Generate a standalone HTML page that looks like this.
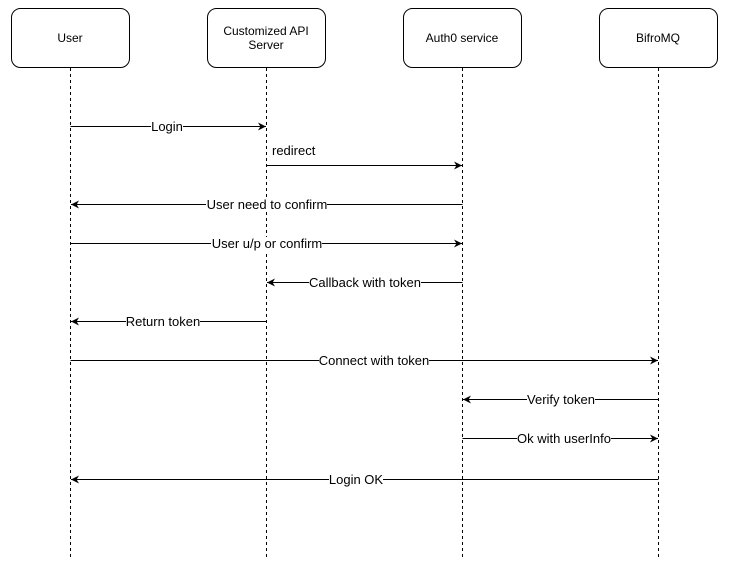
<!DOCTYPE html>
<html><head><meta charset="utf-8"><style>
html,body{margin:0;padding:0;background:#fff;}
svg{display:block;}
text{font-family:"Liberation Sans",Arial,sans-serif;font-size:12px;fill:#000;}
.m{font-size:13px;}
</style></head><body>
<svg width="729" height="569" viewBox="0 0 729 569" xmlns="http://www.w3.org/2000/svg">
<defs>
<marker id="a" viewBox="0 0 10 10" refX="10" refY="5" markerWidth="8" markerHeight="8" markerUnits="userSpaceOnUse" orient="auto">
<path d="M0,0 L10,5 L0,10 L3,5 z" fill="#000"/>
</marker>
</defs>
<g fill="#fff" stroke="#000" stroke-width="1">
<rect x="11.5" y="8.5" width="118" height="59" rx="9"/>
<rect x="207.5" y="8.5" width="118" height="59" rx="9"/>
<rect x="403.5" y="8.5" width="118" height="59" rx="9"/>
<rect x="599.5" y="8.5" width="118" height="59" rx="9"/>
</g>
<g text-anchor="middle">
<text x="70" y="42">User</text>
<text x="266" y="35">Customized API</text>
<text x="266" y="49">Server</text>
<text x="462" y="42">Auth0 service</text>
<text x="658" y="42">BifroMQ</text>
</g>
<g stroke="#000" stroke-dasharray="3,3" stroke-width="1">
<line x1="70.5" y1="68" x2="70.5" y2="557"/>
<line x1="266.5" y1="68" x2="266.5" y2="557"/>
<line x1="462.5" y1="68" x2="462.5" y2="557"/>
<line x1="658.5" y1="68" x2="658.5" y2="557"/>
</g>
<g stroke="#000" stroke-width="1" marker-end="url(#a)">
<line x1="70.5" y1="126.5" x2="266" y2="126.5"/>
<line x1="266.5" y1="165.5" x2="462" y2="165.5"/>
<line x1="462.5" y1="204.5" x2="71" y2="204.5"/>
<line x1="70.5" y1="243.5" x2="462" y2="243.5"/>
<line x1="462.5" y1="282.5" x2="267" y2="282.5"/>
<line x1="266.5" y1="321.5" x2="71" y2="321.5"/>
<line x1="70.5" y1="360.5" x2="658" y2="360.5"/>
<line x1="658.5" y1="399.5" x2="463" y2="399.5"/>
<line x1="462.5" y1="438.5" x2="658" y2="438.5"/>
<line x1="658.5" y1="479.5" x2="71" y2="479.5"/>
</g>
<g fill="#fff">
<rect x="151" y="120" width="32" height="14"/>
<rect x="206" y="198" width="121" height="14"/>
<rect x="211" y="237" width="111" height="14"/>
<rect x="309" y="276" width="112" height="14"/>
<rect x="126" y="315" width="74" height="14"/>
<rect x="319" y="354" width="110" height="14"/>
<rect x="527" y="393" width="68" height="14"/>
<rect x="517" y="432" width="94" height="14"/>
<rect x="329" y="473" width="54" height="14"/>
</g>
<g text-anchor="middle">
<text class="m" x="167" y="131">Login</text>
<text class="m" x="267" y="209">User need to confirm</text>
<text class="m" x="267" y="248">User u/p or confirm</text>
<text class="m" x="365" y="287">Callback with token</text>
<text class="m" x="163" y="326">Return token</text>
<text class="m" x="374" y="365">Connect with token</text>
<text class="m" x="561" y="404">Verify token</text>
<text class="m" x="564" y="443">Ok with userInfo</text>
<text class="m" x="356" y="484">Login OK</text>
</g>
<text class="m" x="272" y="155">redirect</text>
</svg>
</body></html>
